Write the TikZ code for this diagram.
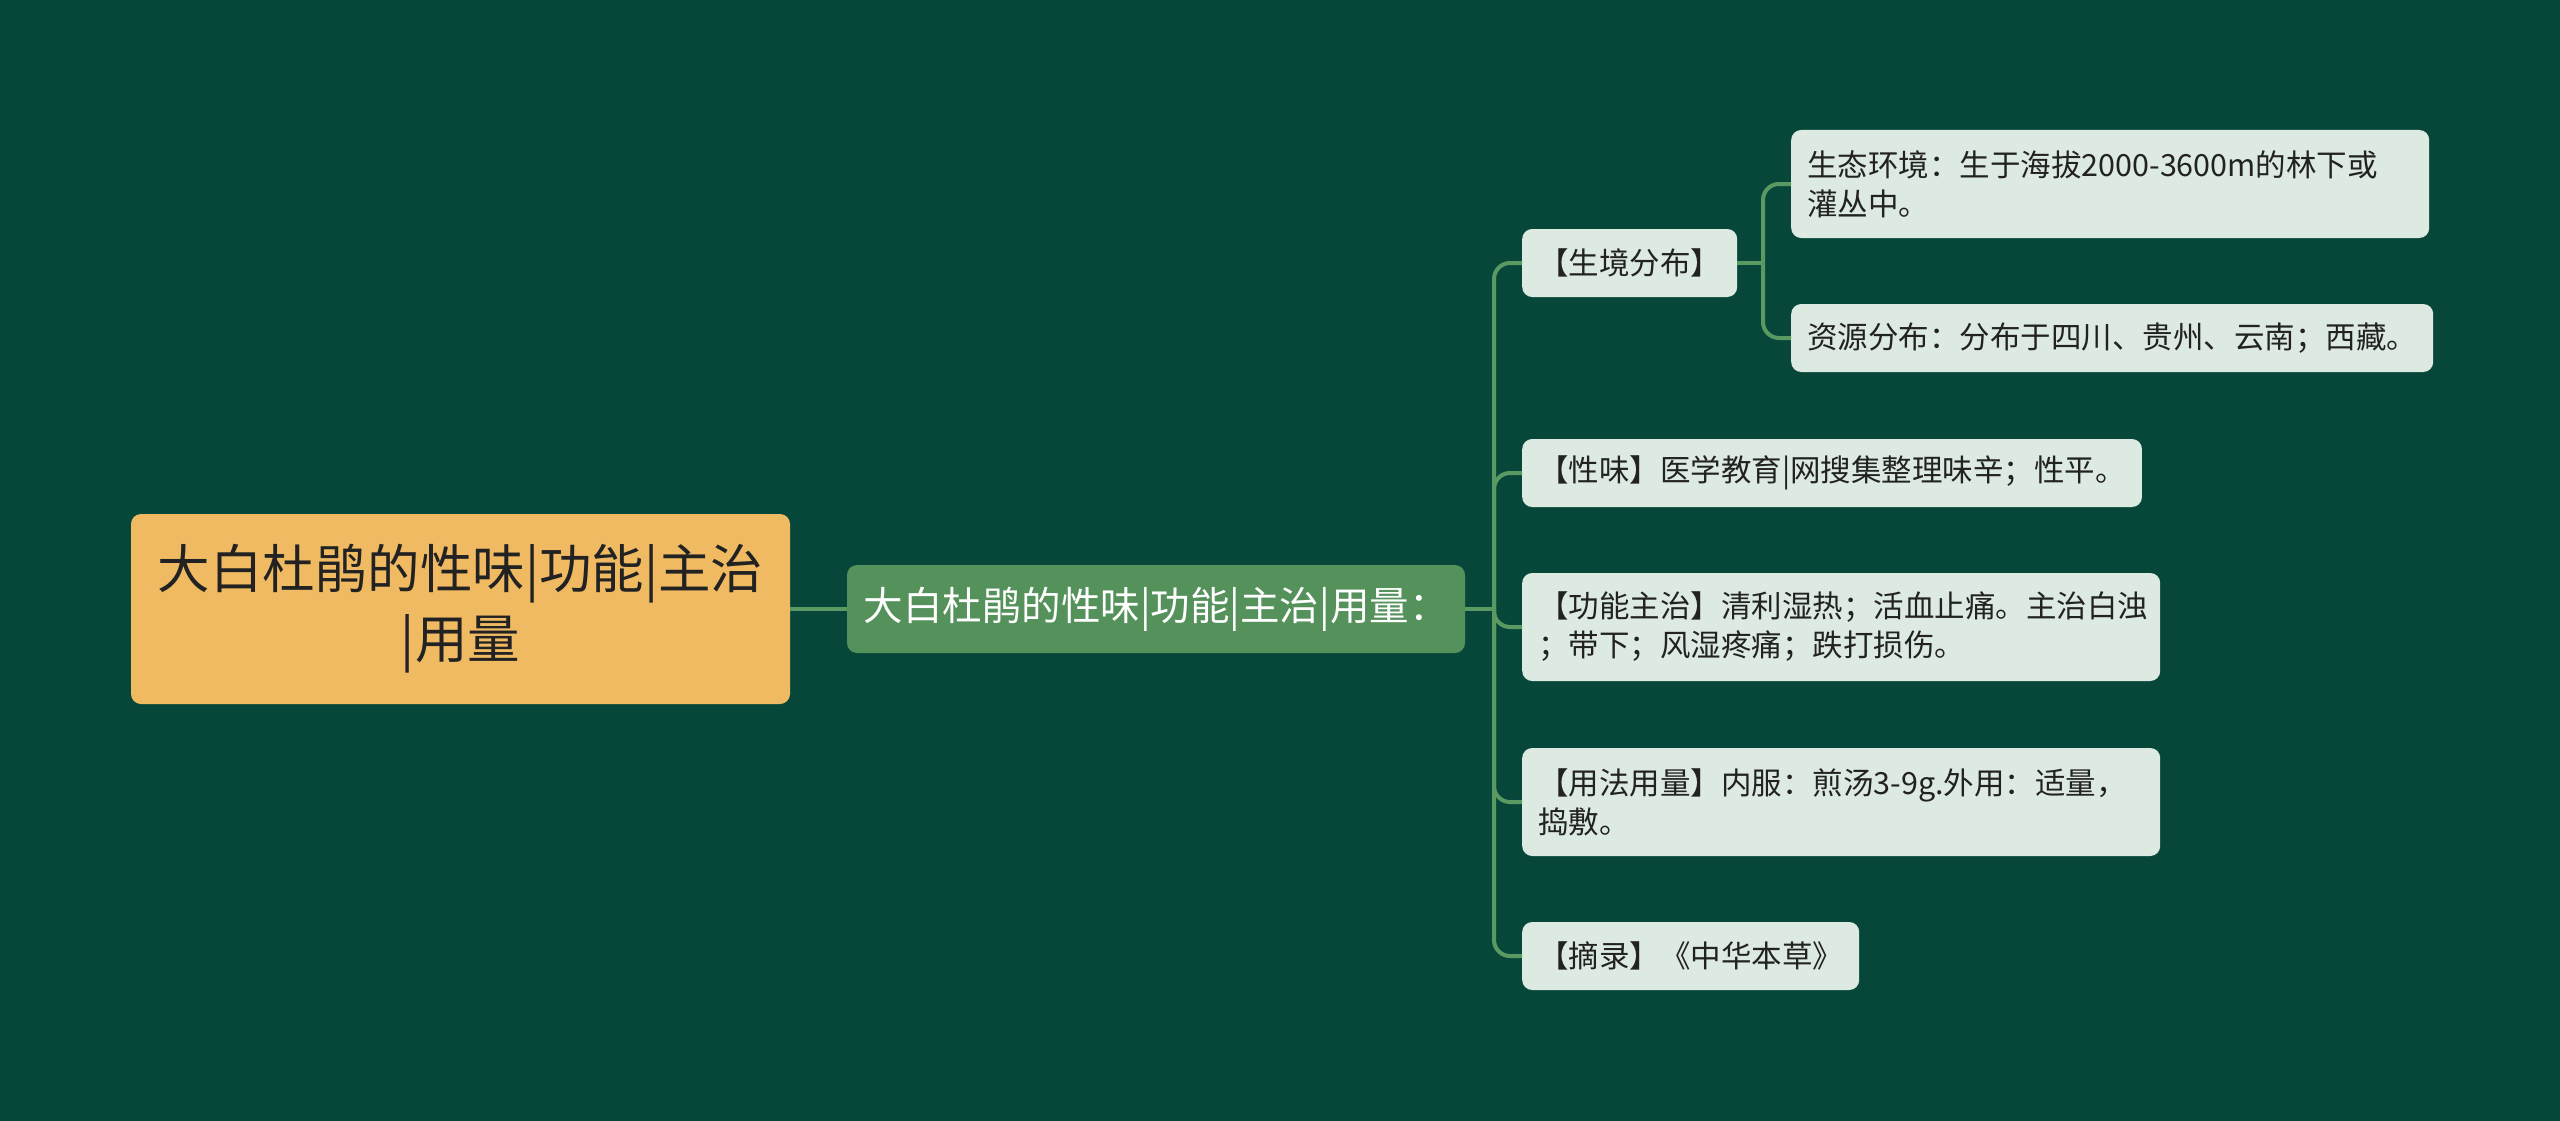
\documentclass[tikz,border=0pt]{standalone}
\usepackage{fontspec}
\setmainfont{Noto Sans CJK SC}
\definecolor{bg}{HTML}{07473A}
\definecolor{rootfill}{HTML}{F0BA62}
\definecolor{mainfill}{HTML}{54915B}
\definecolor{leaf}{HTML}{DDEAE1}
\definecolor{conn}{HTML}{5A9A62}
\definecolor{ink}{HTML}{222222}
\tikzset{
  rootbox/.style={fill=rootfill, rounded corners=10pt, text=ink, align=center,
    minimum width=659pt, minimum height=190pt, inner sep=0pt,
    font=\fontsize{52.5}{70}\selectfont},
  mainbox/.style={fill=mainfill, rounded corners=10pt, text=white, align=center,
    minimum width=618pt, minimum height=88pt, inner sep=0pt,
    font=\fontsize{39.5}{46}\selectfont},
  leafbox/.style={fill=leaf, rounded corners=10pt, text=ink, anchor=west,
    inner xsep=16pt, inner ysep=0pt, font=\fontsize{30.5}{39}\selectfont},
  wrapbox/.style={leafbox, text width=606pt, align=left, minimum height=108pt},
  linebox/.style={leafbox, minimum height=68pt},
  connline/.style={draw=conn, line width=4pt},
  bendline/.style={connline, rounded corners=16pt}
}
\begin{document}
\begin{tikzpicture}[x=1pt,y=-1pt]
\fill[bg] (0,0) rectangle (2560,1121);
\useasboundingbox (0,0) rectangle (2560,1121);

\node[rootbox] (root) at (460.5,609) {大白杜鹃的性味|功能|主治\\|用量};
\node[mainbox] (main) at (1156,609) {大白杜鹃的性味|功能|主治|用量：};

\node[linebox, minimum width=212pt] (hab) at (1522,263) {【生境分布】};
\node[linebox, minimum width=615pt] (tas) at (1522,473) {【性味】医学教育|网搜集整理味辛；性平。};
\node[wrapbox] (fun) at (1522,627) {【功能主治】清利湿热；活血止痛。主治白浊\\；带下；风湿疼痛；跌打损伤。};
\node[wrapbox] (use) at (1522,802) {【用法用量】内服：煎汤3-9g.外用：适量，\\捣敷。};
\node[linebox, minimum width=334pt] (exc) at (1522,956) {【摘录】《中华本草》};

\node[wrapbox] (eco) at (1791,184) {生态环境：生于海拔2000-3600m的林下或\\灌丛中。};
\node[linebox, minimum width=638pt] (res) at (1791,338) {资源分布：分布于四川、贵州、云南；西藏。};

\coordinate (t1) at (1494,609);
\coordinate (t2) at (1763,263);

\draw[connline] (root.east) -- (main.west);
\draw[connline] (main.east) -- (t1);
\foreach \c in {hab,tas,fun,use,exc}{
  \draw[bendline] (t1) |- (\c.west);
}
\draw[connline] (hab.east) -- (t2);
\draw[bendline] (t2) |- (eco.west);
\draw[bendline] (t2) |- (res.west);
\end{tikzpicture}
\end{document}
